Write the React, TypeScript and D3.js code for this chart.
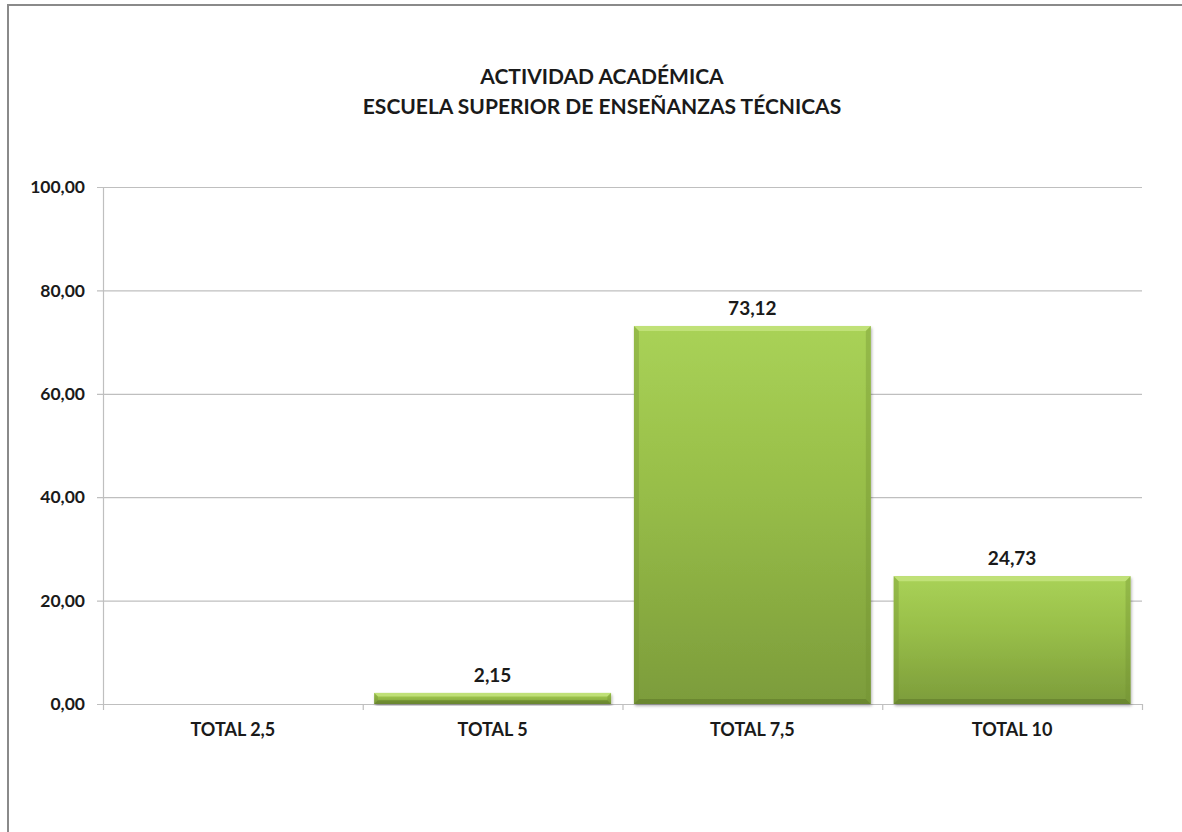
import React, { useEffect, useRef } from 'react';
import * as d3 from 'd3';

// chart data
const categories = ['TOTAL 2,5', 'TOTAL 5', 'TOTAL 7,5', 'TOTAL 10'];
const values = [0, 2.15, 73.12, 24.73];
const yTicks = [0, 20, 40, 60, 80, 100];
const titleLines = ['ACTIVIDAD ACADÉMICA', 'ESCUELA SUPERIOR DE ENSEÑANZAS TÉCNICAS'];

const W = 1182;
const H = 832;
const FONT = 'Lato, "Open Sans", sans-serif';

const fmt = (v: number) => v.toFixed(2).replace('.', ',');

export default function App() {
  const svgRef = useRef<SVGSVGElement>(null);

  useEffect(() => {
    const svg = d3.select(svgRef.current);
    svg.selectAll('*').remove();

    const left = 103, right = 1142, top = 187, bottom = 704;

    const x = d3.scaleBand<string>()
      .domain(categories)
      .range([left, right])
      .paddingInner(0.088)
      .paddingOuter(0.044);

    const y = d3.scaleLinear()
      .domain([0, 100])
      .range([bottom, top]);

    const defs = svg.append('defs');
    const grad = defs.append('linearGradient')
      .attr('id', 'barGrad')
      .attr('x1', 0).attr('y1', 0).attr('x2', 0).attr('y2', 1);
    grad.append('stop').attr('offset', '0%').attr('stop-color', '#a9d257');
    grad.append('stop').attr('offset', '45%').attr('stop-color', '#97bd48');
    grad.append('stop').attr('offset', '100%').attr('stop-color', '#7c9c3b');

    const shadow = defs.append('filter').attr('id', 'shadow')
      .attr('x', '-5%').attr('y', '-5%').attr('width', '110%').attr('height', '115%');
    shadow.append('feDropShadow')
      .attr('dx', 1).attr('dy', 2).attr('stdDeviation', 1.5)
      .attr('flood-color', '#000').attr('flood-opacity', 0.3);

    // outer frame
    svg.append('rect')
      .attr('x', 8).attr('y', 5)
      .attr('width', 1300).attr('height', 1000)
      .attr('fill', 'none')
      .attr('stroke', '#8a8a8a')
      .attr('stroke-width', 2);

    // title
    svg.append('g')
      .selectAll('text')
      .data(titleLines)
      .enter()
      .append('text')
      .attr('x', 602)
      .attr('y', (d, i) => 84 + i * 30)
      .attr('text-anchor', 'middle')
      .attr('font-family', FONT)
      .attr('font-weight', 'bold')
      .attr('font-size', 21)
      .attr('fill', '#1a1a1a')
      .text(d => d);

    // gridlines
    svg.append('g')
      .selectAll('line')
      .data(yTicks)
      .enter()
      .append('line')
      .attr('x1', left - 6)
      .attr('x2', right)
      .attr('y1', d => y(d) + 0.5)
      .attr('y2', d => y(d) + 0.5)
      .attr('stroke', '#bfbfbf')
      .attr('stroke-width', 1.2);

    // y axis line
    svg.append('line')
      .attr('x1', left + 0.5).attr('x2', left + 0.5)
      .attr('y1', top).attr('y2', bottom + 6)
      .attr('stroke', '#bfbfbf').attr('stroke-width', 1.2);

    // x ticks at band edges
    const edges = categories.map(c => (x(c) as number) - x.step() * x.paddingInner() / 2);
    edges.push(right);
    svg.append('g')
      .selectAll('line')
      .data(edges.slice(1))
      .enter()
      .append('line')
      .attr('x1', d => d + 0.5).attr('x2', d => d + 0.5)
      .attr('y1', bottom).attr('y2', bottom + 6)
      .attr('stroke', '#bfbfbf').attr('stroke-width', 1.2);

    // y tick labels
    svg.append('g')
      .selectAll('text')
      .data(yTicks)
      .enter()
      .append('text')
      .attr('x', left - 18)
      .attr('y', d => y(d))
      .attr('dy', '0.35em')
      .attr('text-anchor', 'end')
      .attr('font-family', FONT)
      .attr('font-weight', 'bold')
      .attr('font-size', 17.5)
      .attr('fill', '#1a1a1a')
      .text(d => fmt(d));

    // category labels
    svg.append('g')
      .selectAll('text')
      .data(categories)
      .enter()
      .append('text')
      .attr('x', d => (x(d) as number) + x.bandwidth() / 2)
      .attr('y', 736)
      .attr('text-anchor', 'middle')
      .attr('font-family', FONT)
      .attr('font-weight', 'bold')
      .attr('font-size', 18)
      .attr('fill', '#1a1a1a')
      .text(d => d);

    // bars
    const bars = svg.append('g')
      .selectAll('g')
      .data(values.map((v, i) => ({ c: categories[i], v })).filter(d => d.v > 0))
      .enter()
      .append('g');

    bars.append('rect')
      .attr('x', d => x(d.c) as number)
      .attr('y', d => y(d.v))
      .attr('width', x.bandwidth())
      .attr('height', d => bottom - y(d.v))
      .attr('fill', 'url(#barGrad)')
      .attr('filter', 'url(#shadow)');

    const bev = (h: number) => Math.min(5, h / 3);

    // top bevel (light)
    bars.append('path')
      .attr('d', d => {
        const x0 = x(d.c) as number, x1 = x0 + x.bandwidth(), y0 = y(d.v);
        const b = bev(bottom - y0);
        return `M${x0},${y0}L${x1},${y0}L${x1 - b},${y0 + b}L${x0 + b},${y0 + b}Z`;
      })
      .attr('fill', '#c4e47e')
      .attr('opacity', 0.85);

    // bottom bevel (dark)
    bars.append('path')
      .attr('d', d => {
        const x0 = x(d.c) as number, x1 = x0 + x.bandwidth(), y0 = y(d.v);
        const b = bev(bottom - y0);
        return `M${x0},${bottom}L${x1},${bottom}L${x1 - b},${bottom - b}L${x0 + b},${bottom - b}Z`;
      })
      .attr('fill', '#5f7a2a')
      .attr('opacity', 0.6);

    // side bevels
    bars.append('path')
      .attr('d', d => {
        const x0 = x(d.c) as number, y0 = y(d.v);
        const b = bev(bottom - y0);
        return `M${x0},${y0}L${x0 + b},${y0 + b}L${x0 + b},${bottom - b}L${x0},${bottom}Z`;
      })
      .attr('fill', '#6f8f30')
      .attr('opacity', 0.35);
    bars.append('path')
      .attr('d', d => {
        const x1 = (x(d.c) as number) + x.bandwidth(), y0 = y(d.v);
        const b = bev(bottom - y0);
        return `M${x1},${y0}L${x1 - b},${y0 + b}L${x1 - b},${bottom - b}L${x1},${bottom}Z`;
      })
      .attr('fill', '#6f8f30')
      .attr('opacity', 0.35);

    // value labels
    bars.append('text')
      .attr('x', d => (x(d.c) as number) + x.bandwidth() / 2)
      .attr('y', d => y(d.v) - 11)
      .attr('text-anchor', 'middle')
      .attr('font-family', FONT)
      .attr('font-weight', 'bold')
      .attr('font-size', 19)
      .attr('fill', '#1a1a1a')
      .text(d => fmt(d.v));
  }, []);

  return (
    <svg
      ref={svgRef}
      width={W}
      height={H}
      style={{ position: 'absolute', left: 0, top: 0, background: '#fff' }}
    />
  );
}
